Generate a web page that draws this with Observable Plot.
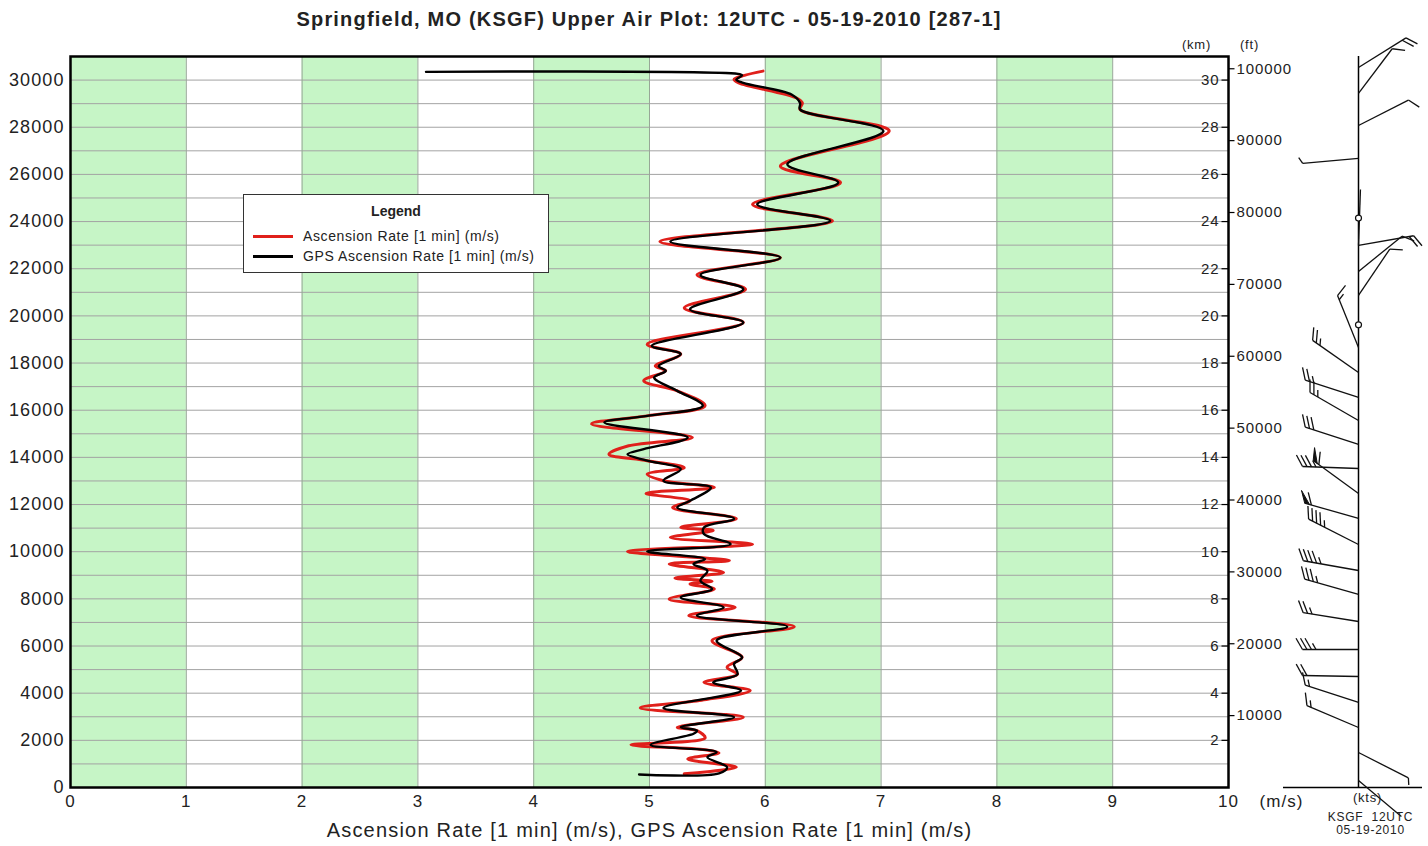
<!DOCTYPE html>
<html>
<head>
<meta charset="utf-8">
<script src="https://cdn.jsdelivr.net/npm/d3@7"></script>
<script src="https://cdn.jsdelivr.net/npm/@observablehq/plot@0.6"></script>
<style>
  html, body { margin: 0; padding: 0; background: #fff; }
  #wrap { position: relative; width: 1428px; height: 846px; font-family: "Liberation Sans", Arial, sans-serif; color: #222; }
  #title { height: 30px; box-sizing: border-box; padding-top: 8px; line-height: 22px; width: 1298px; text-align: center; font-size: 20px; font-weight: bold; color: #222; letter-spacing: 1.2px; }
  #legend { position: absolute; left: 243px; top: 194px; width: 304px; height: 77px; border: 1px solid #333; background: #fff; font-size: 14px; }
  #legend .hd { position: absolute; left: 0; width: 100%; top: 8px; text-align: center; font-weight: bold; }
  #legend .it { position: absolute; left: 9px; height: 16px; line-height: 16px; white-space: nowrap; letter-spacing: 0.6px; }
  #legend .sw { display: inline-block; width: 40px; height: 0; border-top: 3px solid; vertical-align: middle; margin-right: 10px; position: relative; top: -1px; }
  #chart svg text { letter-spacing: 0.06em; }
</style>
</head>
<body>
<div id="wrap">
  <div id="title">Springfield, MO (KSGF) Upper Air Plot: 12UTC - 05-19-2010 [287-1]</div>
  <div id="chart"></div>
  <div id="legend">
    <div class="hd">Legend</div>
    <div class="it" style="top:33px"><span class="sw" style="border-color:#e0201b"></span>Ascension Rate [1 min] (m/s)</div>
    <div class="it" style="top:53px"><span class="sw" style="border-color:#000"></span>GPS Ascension Rate [1 min] (m/s)</div>
  </div>
</div>
<script>
// ---------------- data ----------------
const xTicks = [0,1,2,3,4,5,6,7,8,9,10];
const yTicks = [0,2000,4000,6000,8000,10000,12000,14000,16000,18000,20000,22000,24000,26000,28000,30000];
const gridY = d3.range(1000, 31000, 1000);
const gridX = [1,2,3,4,5,6,7,8,9];
const greenBands = [0,2,4,6,8];
const kmTicks = [2,4,6,8,10,12,14,16,18,20,22,24,26,28,30];
const ftTicks = [10000,20000,30000,40000,50000,60000,70000,80000,90000,100000];

// GPS Ascension Rate [1 min] (m/s) — black
const gpsHeight = [550,600,860,1280,1500,1810,2280,2410,2555,2980,3375,4110,4460,4800,5240,5520,6230,6820,7290,7640,8060,8420,8770,9190,9480,9690,10010,10320,10750,11030,11400,11870,12160,12720,13010,13500,13860,14130,14350,14840,15480,15760,16190,16820,17390,17670,17880,18380,18730,19720,20280,21130,21740,22470,23150,24030,24730,25650,26430,27840,28750,29030,29380,29880,30020,30200,30250,30350];
const gpsRate   = [4.91,5.60,5.67,5.50,5.58,5.01,5.38,5.41,5.27,5.73,5.12,5.79,5.55,5.76,5.73,5.80,5.58,6.19,5.41,5.64,5.27,5.54,5.44,5.50,5.38,5.48,4.98,5.70,5.47,5.47,5.73,5.24,5.35,5.53,5.12,5.27,4.98,4.81,4.95,5.33,4.61,4.98,5.46,5.24,5.04,5.14,5.08,5.27,5.02,5.81,5.35,5.81,5.44,6.13,5.18,6.56,5.93,6.63,6.19,7.02,6.30,6.30,6.23,5.81,5.75,5.80,5.78,3.07];

// Ascension Rate [1 min] (m/s) — red
const ascHeight = [580,860,1210,1460,1600,1810,2100,2410,2555,2980,3375,3700,4110,4460,4800,5100,5520,6230,6820,7290,7640,7990,8420,8630,8750,8880,9120,9480,9620,10010,10320,10600,10900,11030,11400,11870,12160,12470,12720,13010,13290,13560,13860,14130,14490,14840,15420,15760,16190,16820,17250,17670,17880,18380,18800,19720,20340,21130,21740,22470,23150,24030,24730,25650,26350,27840,28750,29030,29240,29880,30030,30200,30380];
const ascRate   = [5.30,5.75,5.33,5.60,5.48,4.84,5.48,5.41,5.24,5.81,4.92,5.45,5.87,5.47,5.76,5.67,5.80,5.54,6.25,5.34,5.74,5.17,5.56,5.35,5.54,5.22,5.64,5.17,5.69,4.81,5.89,5.18,5.55,5.27,5.75,5.20,5.35,4.97,5.56,5.12,4.98,5.30,4.98,4.65,4.82,5.37,4.50,4.98,5.48,5.24,4.95,5.14,5.05,5.27,4.98,5.81,5.30,5.83,5.41,6.13,5.09,6.58,5.89,6.65,6.13,7.07,6.30,6.32,6.27,5.77,5.73,5.82,5.98];

// wind barbs: height (m), direction (deg), speed (kts)
const windHeight = [30533,29432,28075,26676,22986,22986,21884,20866,18660,17600,16540,15564,14547,13529,12469,11408,10306,9203,8185,7040,5853,4708,3605,2545,1484,297];
const windDir    = [58,37,63,265,2,80,51,34,338,305,288,300,288,272,306,286,297,280,286,279,270,271,288,293,117,130];
const windSpeed  = [20,10,10,5,0,20,10,10,15,25,25,25,30,35,60,60,45,45,35,25,35,20,15,15,5,0];
const calmHeight = [24150,19619];

// ---------------- layout ----------------
const W = 1428, H = 816, ML = 70, MR = 200, MT = 26, MB = 59;
const XD = [0, 10], YD = [0, 31000];
const kx = (W - ML - MR) / (XD[1] - XD[0]);   // px per m/s
const ky = (H - MT - MB) / (YD[1] - YD[0]);   // px per m
const px2x = p => p / kx, px2y = p => p / ky;
const ftToM = 0.3048;
const staffX = XD[1] + px2x(130);

const gps = gpsRate.map((v, i) => ({v, h: gpsHeight[i]}));
const asc = ascRate.map((v, i) => ({v, h: ascHeight[i]}));

// barb geometry built from wind data
const segs = [], pens = [];
windHeight.forEach((h, i) => {
  const dir = windDir[i], spd = windSpeed[i];
  const L = 56, gap = 4.5, full = 13, half = 7, pw = 5;
  const t = dir * Math.PI / 180, f = (dir + 60) * Math.PI / 180;
  const ux = Math.sin(t), uy = Math.cos(t), fx = Math.sin(f), fy = Math.cos(f);
  const P = s => [staffX + px2x(s * ux), h + px2y(s * uy)];
  const F = (p, len) => [p[0] + px2x(len * fx), p[1] + px2y(len * fy)];
  const a = P(0), b = P(L);
  segs.push({x1: a[0], y1: a[1], x2: b[0], y2: b[1]});
  let n = Math.round(spd / 5) * 5;
  const np = Math.floor(n / 50); n -= np * 50;
  const nf = Math.floor(n / 10); n -= nf * 10;
  const nh = n >= 5 ? 1 : 0;
  let s = L;
  for (let k = 0; k < np; k++) {
    const p1 = P(s), ap = F(p1, full), p2 = P(s - pw);
    const id = i + "-" + k;
    pens.push({x: p1[0], y: p1[1], id}, {x: ap[0], y: ap[1], id}, {x: p2[0], y: p2[1], id});
    s -= pw + 2;
  }
  for (let k = 0; k < nf; k++) {
    const p = P(s), e = F(p, full);
    segs.push({x1: p[0], y1: p[1], x2: e[0], y2: e[1]});
    s -= gap;
  }
  for (let k = 0; k < nh; k++) {
    const p = P(s), e = F(p, half);
    segs.push({x1: p[0], y1: p[1], x2: e[0], y2: e[1]});
  }
});

const txt = "#222";
const chart = Plot.plot({
  width: W, height: H,
  marginLeft: ML, marginRight: MR, marginTop: MT, marginBottom: MB,
  x: {domain: XD, axis: null},
  y: {domain: YD, axis: null},
  style: {fontFamily: "Liberation Sans, Arial, sans-serif", background: "white", overflow: "visible"},
  marks: [
    Plot.rect(greenBands, {x1: d => d, x2: d => d + 1, y1: YD[0], y2: YD[1], fill: "#c6f5c6"}),
    Plot.ruleY(gridY, {stroke: "#a3a3a3", strokeWidth: 1}),
    Plot.ruleX(gridX, {stroke: "#97a797", strokeWidth: 1}),
    Plot.line(asc, {x: "v", y: "h", stroke: "#e0201b", strokeWidth: 3, curve: "catmull-rom"}),
    Plot.line(gps, {x: "v", y: "h", stroke: "#000", strokeWidth: 2.4, curve: "catmull-rom"}),
    Plot.frame({stroke: "#000", strokeWidth: 2.5}),
    // left axis labels
    Plot.text(yTicks, {x: XD[0], y: d => d, text: d => String(d), dx: -6, textAnchor: "end", fontSize: 18, fill: txt}),
    // bottom axis labels
    Plot.text(xTicks, {x: d => d, y: YD[0], text: d => String(d), dy: 14, fontSize: 17, fill: txt}),
    Plot.text(["(m/s)"], {x: XD[1], y: YD[0], text: d => d, dx: 53, dy: 14, fontSize: 17, fill: txt}),
    Plot.text(["Ascension Rate [1 min] (m/s), GPS Ascension Rate [1 min] (m/s)"], {x: (XD[0] + XD[1]) / 2, y: YD[0], text: d => d, dy: 43, fontSize: 20, fill: txt}),
    // right km axis (ticks inward)
    Plot.link(kmTicks, {x1: XD[1] - px2x(7), x2: XD[1], y1: d => d * 1000, y2: d => d * 1000, stroke: "#000", strokeWidth: 1.2}),
    Plot.text(kmTicks, {x: XD[1], y: d => d * 1000, text: d => String(d), dx: -9, textAnchor: "end", fontSize: 15, fill: txt}),
    // right ft axis (ticks outward)
    Plot.link(ftTicks, {x1: XD[1], x2: XD[1] + px2x(6), y1: d => d * ftToM, y2: d => d * ftToM, stroke: "#000", strokeWidth: 1.2}),
    Plot.text(ftTicks, {x: XD[1], y: d => d * ftToM, text: d => String(d), dx: 8, textAnchor: "start", fontSize: 15, fill: txt}),
    Plot.text(["(km)"], {x: XD[1], y: YD[1], text: d => d, dx: -32, dy: -12, fontSize: 13, fill: txt}),
    Plot.text(["(ft)"], {x: XD[1], y: YD[1], text: d => d, dx: 21, dy: -12, fontSize: 13, fill: txt}),
    // wind barb panel
    Plot.ruleX([staffX], {stroke: "#000", strokeWidth: 1.5}),
    Plot.ruleY([YD[0]], {x1: XD[1] + px2x(55), x2: XD[1] + px2x(194), stroke: "#000", strokeWidth: 1.5}),
    Plot.link(segs, {x1: "x1", y1: "y1", x2: "x2", y2: "y2", stroke: "#111", strokeWidth: 1.3}),
    Plot.line(pens, {x: "x", y: "y", z: "id", fill: "#111", stroke: "#111", strokeWidth: 1}),
    Plot.dot(calmHeight, {x: staffX, y: d => d, r: 3, stroke: "#111", fill: "white", strokeWidth: 1.2}),
    Plot.text(["(kts)"], {x: staffX, y: YD[0], text: d => d, dx: 9, dy: 10, fontSize: 13, fill: txt}),
    Plot.text(["KSGF  12UTC"], {x: staffX, y: YD[0], text: d => d, dx: 12, dy: 30, fontSize: 12, fill: txt}),
    Plot.text(["05-19-2010"], {x: staffX, y: YD[0], text: d => d, dx: 12, dy: 43, fontSize: 12, fill: txt})
  ]
});
document.getElementById("chart").appendChild(chart);
</script>
</body>
</html>
